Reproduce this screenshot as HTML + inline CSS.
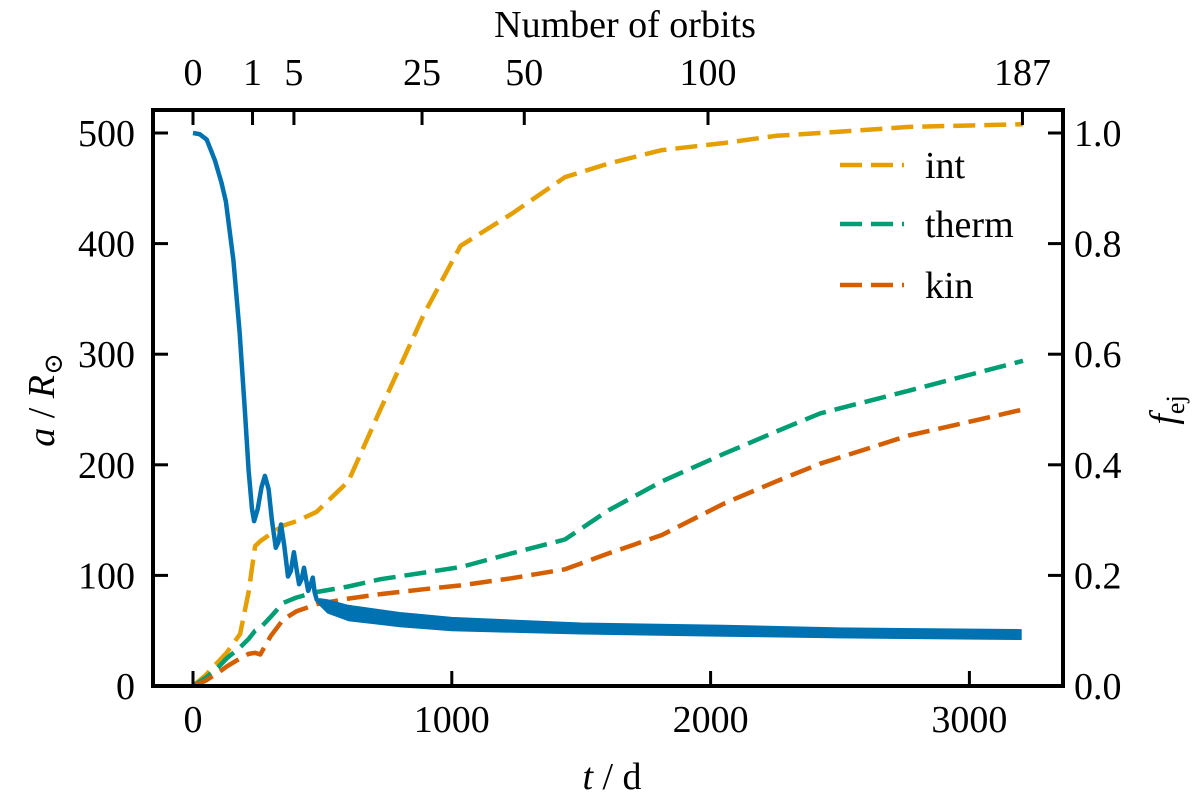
<!DOCTYPE html>
<html><head><meta charset="utf-8"><style>
body{margin:0;background:#fff;}
svg, svg text{font-family:"Liberation Serif","Times New Roman","DejaVu Serif",serif;}
svg{display:block;}
</style></head><body>
<svg id="chart" width="1200" height="804" viewBox="0 0 1200 804">
<g id="series"></g>
<g id="axes"></g>
</svg>
<script>
const tA=[0,25,53,85,110,127,156,180,200,215,228,236,250,265,278,292,305,320,330,340,352,367,378,390,400,410,420,429,437,445,455,463,470,478,490,520,600,800,1000,1250,1500,2050,2500,3200];
const aVals=[500,499,494,475,455,438,385,320,250,195,160,149,160,180,190,178,150,125,130,146,128,99,104,121,106,92,97,107,96,86,92,98,85,78,76,72,66,60,56,54,52,50,48,46.5];
const aAmp=[0,0,0,0,0,0,0,0,0,0,0,0,0,0,0,0,0,0,0,0,0,0,0,0,0,0,0,0,0,0,0,0,0,0,3,6,7,6.5,6,5.5,5,5,4.5,4.5];
const tF=[0,50,100,130,182,215,240,260,300,348,400,478,600,722,893,1034,1232,1437,1607,1812,2052,2253,2423,2766,3207];
const fInt=[0,0.02,0.045,0.06,0.094,0.17,0.253,0.262,0.275,0.29,0.298,0.315,0.37,0.498,0.673,0.796,0.854,0.92,0.945,0.969,0.982,0.995,1.0,1.011,1.016];
const fTherm=[0,0.015,0.035,0.05,0.07,0.085,0.1,0.105,0.125,0.15,0.16,0.17,0.18,0.193,0.205,0.215,0.24,0.265,0.318,0.37,0.42,0.46,0.493,0.534,0.588];
const fKin=[0,0.01,0.025,0.035,0.05,0.058,0.06,0.057,0.09,0.12,0.135,0.148,0.158,0.166,0.175,0.182,0.195,0.211,0.24,0.273,0.33,0.37,0.402,0.453,0.5];
const xTicks=[0,1000,2000,3000];
const aTicks=[0,100,200,300,400,500];
const fTicks=[0.0,0.2,0.4,0.6,0.8,1.0];
const orbitLabels=["0","1","5","25","50","100","187"];
const orbitT=[0,230,390,885,1280,1990,3205];

const L=153,R=1063,T=110,B=686;
const X=t=>193+t*0.2588;
const YA=a=>B-a*1.106;
const YF=f=>B-f*553;
const NS="http://www.w3.org/2000/svg";
const FF='"Liberation Serif","Times New Roman","DejaVu Serif",serif';
const sg=document.getElementById('series'), ag=document.getElementById('axes');
function mk(tag,attrs,parent){const e=document.createElementNS(NS,tag);for(const k in attrs)e.setAttribute(k,attrs[k]);parent.appendChild(e);return e;}
function pathOf(xs,ys,fy){return xs.map((t,i)=>(i?'L':'M')+X(t).toFixed(1)+','+fy(ys[i]).toFixed(1)).join(' ');}

const cols={int:'#E69F00',therm:'#009E73',kin:'#D55E00'};
[['int',fInt],['therm',fTherm],['kin',fKin]].forEach(([n,v])=>{
  const p=mk('path',{d:pathOf(tF,v,YF),fill:'none',stroke:cols[n],'stroke-width':4.5,'stroke-dasharray':'22,9','stroke-linejoin':'round'},sg);
  
  
});
let up=[],dn=[];
tA.forEach((t,i)=>{if(i>=33){up.push(X(t).toFixed(1)+','+YA(aVals[i]+aAmp[i]).toFixed(1));dn.unshift(X(t).toFixed(1)+','+YA(aVals[i]-aAmp[i]).toFixed(1));}});
const band=mk('polygon',{points:up.concat(dn).join(' '),fill:'#0072B2',stroke:'#0072B2','stroke-width':1,'stroke-linejoin':'round'},sg);


const al=mk('path',{d:pathOf(tA,aVals,YA),fill:'none',stroke:'#0072B2','stroke-width':4.5,'stroke-linejoin':'round'},sg);



const fr=mk('rect',{x:L,y:T,width:R-L,height:B-T,fill:'none',stroke:'#000','stroke-width':4},ag);


function txt(s,x,y,anchor,size,name){const e=mk('text',{x:x,y:y,'text-anchor':anchor,'font-size':size,'font-family':FF,fill:'#000'},ag);e.textContent=s;return e;}
const FS=38;
xTicks.forEach(t=>{mk('line',{x1:X(t),x2:X(t),y1:B,y2:B-15,stroke:'#000','stroke-width':3},ag);txt(String(t),X(t),732,'middle',FS,'x-tick-label');});
aTicks.forEach(a=>{mk('line',{x1:L,x2:L+15,y1:YA(a),y2:YA(a),stroke:'#000','stroke-width':3},ag);txt(String(a),135,YA(a)+13,'end',FS,'y-left-tick-label');});
fTicks.forEach(f=>{mk('line',{x1:R,x2:R-15,y1:YF(f),y2:YF(f),stroke:'#000','stroke-width':3},ag);txt(f.toFixed(1),1074,YF(f)+13,'start',FS,'y-right-tick-label');});
orbitT.forEach((t,i)=>{mk('line',{x1:X(t),x2:X(t),y1:T,y2:T+15,stroke:'#000','stroke-width':3},ag);txt(orbitLabels[i],X(t),85,'middle',FS,'top-tick-label');});
txt('Number of orbits',625,37,'middle',FS,'top-axis-title');
const xt=txt('',612,789,'middle',FS,'x-axis-title');xt.innerHTML='<tspan font-style="italic">t</tspan> / d';
const yl=txt('',0,0,'middle',FS,'y-left-axis-title');yl.setAttribute('transform','translate(54,400) rotate(-90)');yl.innerHTML='<tspan font-style="italic">a</tspan> / <tspan font-style="italic">R</tspan><tspan font-size="26" dy="8">⊙</tspan>';
const yr=txt('',0,0,'middle',FS,'y-right-axis-title');yr.setAttribute('transform','translate(1176,410) rotate(-90)');yr.innerHTML='<tspan font-style="italic">f</tspan><tspan font-size="26" dy="8">ej</tspan>';
[['int',165],['therm',224],['kin',285]].forEach(([n,y])=>{
  const l=mk('line',{x1:840,x2:904,y1:y,y2:y,stroke:cols[n],'stroke-width':4.5,'stroke-dasharray':'22,9'},ag);
  
  
  txt(n,925,y+13,'start',FS,'legend-entry-'+n);
});
</script>
</body></html>
